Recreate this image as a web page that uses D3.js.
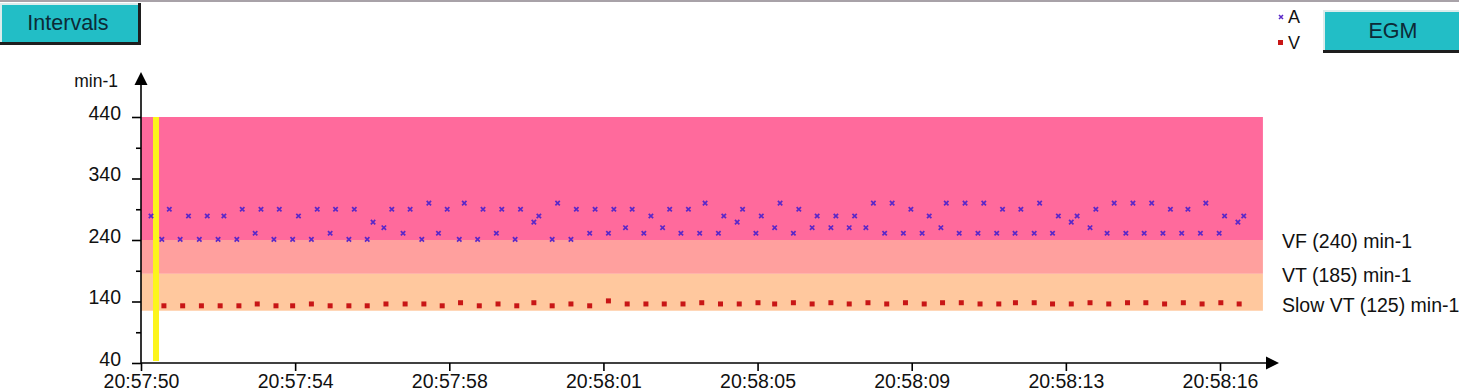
<!DOCTYPE html>
<html>
<head>
<meta charset="utf-8">
<script src="https://cdn.jsdelivr.net/npm/d3@7"></script>
<style>
  body { margin: 0; background: #fff; }
  text { font-family: Arial, "Liberation Sans", sans-serif; fill: #111; }
</style>
</head>
<body>
<svg id="chart" width="1459" height="392"></svg>
<script>
// seconds after 20:57:50 for each tick
const xTickTimes = [0, 3.7, 7.4, 11.1, 14.8, 18.5, 22.2, 25.9];
const xTickLabels = ['20:57:50', '20:57:54', '20:57:58', '20:58:01', '20:58:05', '20:58:09', '20:58:13', '20:58:16'];
const yTicks = [40, 140, 240, 340, 440];
const yMinorTicks = [90, 190, 290, 390];

const zoneNames = ['VF (240) min-1', 'VT (185) min-1', 'Slow VT (125) min-1'];
const zoneLower = [240, 185, 125];
const zoneUpper = [440, 240, 185];
const zoneEnd = 26.93;
const markerTime = 0.36;

// atrial events
const aTimes = [
  0.24, 0.50, 0.68, 0.94, 1.14, 1.40, 1.59, 1.85, 1.99, 2.30, 2.43, 2.74, 2.88, 3.19, 3.32, 3.64,
  3.78, 4.09, 4.23, 4.54, 4.67, 4.99, 5.12, 5.43, 5.57, 5.83, 6.02, 6.29, 6.46, 6.74, 6.91, 7.14,
  7.35, 7.64, 7.76, 8.08, 8.21, 8.53, 8.66, 8.98, 9.11, 9.43, 9.55, 9.87, 10.00, 10.32, 10.45, 10.77,
  10.90, 11.22, 11.35, 11.63, 11.79, 12.07, 12.24, 12.52, 12.69, 12.96, 13.14, 13.41, 13.54, 13.86, 13.99,
  14.31, 14.44, 14.76, 14.89, 15.21, 15.34, 15.66, 15.79, 16.11, 16.23, 16.56, 16.68, 17.00, 17.13, 17.40,
  17.58, 17.85, 18.03, 18.30, 18.48, 18.75, 18.92, 19.20, 19.33, 19.64, 19.78, 20.09, 20.23, 20.54, 20.68,
  20.98, 21.12, 21.44, 21.57, 21.88, 22.02, 22.33, 22.47, 22.78, 22.92, 23.19, 23.36, 23.64, 23.81,
  24.08, 24.26, 24.53, 24.71, 24.98, 25.13, 25.43, 25.56, 25.88, 26.01, 26.33, 26.47
];
const aValues = [
  279, 241, 290, 241, 279, 241, 279, 241, 279, 241, 290, 251, 290, 241, 290, 241,
  279, 241, 290, 251, 290, 241, 290, 241, 269, 260, 290, 251, 290, 241, 300, 251,
  290, 241, 300, 241, 290, 251, 290, 241, 290, 269, 279, 241, 300, 241, 290, 251,
  290, 251, 290, 260, 290, 251, 279, 260, 290, 251, 290, 251, 300, 251, 279,
  269, 290, 251, 279, 260, 300, 251, 290, 260, 279, 260, 279, 260, 279, 260,
  300, 251, 300, 251, 290, 251, 279, 260, 300, 251, 300, 251, 300, 251, 290,
  251, 290, 251, 300, 251, 279, 269, 279, 260, 290, 251, 300, 251, 300,
  251, 300, 251, 290, 251, 290, 251, 300, 251, 279, 269, 279
];

// ventricular events
const vTimes = [
  0.55, 1.00, 1.45, 1.90, 2.35, 2.79, 3.24, 3.64, 4.09, 4.54, 4.99, 5.43, 5.88, 6.34, 6.79,
  7.23, 7.67, 8.12, 8.57, 9.02, 9.43, 9.87, 10.32, 10.77, 11.22, 11.67, 12.12, 12.56, 13.01, 13.46, 13.91,
  14.36, 14.81, 15.21, 15.66, 16.11, 16.56, 17.00, 17.45, 17.90, 18.35, 18.80, 19.24, 19.69, 20.14, 20.59, 20.99,
  21.44, 21.88, 22.33, 22.78, 23.23, 23.68, 24.12, 24.57, 25.02, 25.47, 25.92, 26.36
];
const vValues = [
  133, 133, 133, 133, 133, 136, 133, 133, 136, 133, 133, 133, 136, 136, 136,
  133, 138, 133, 136, 133, 138, 133, 136, 133, 141, 136, 136, 136, 136, 138, 136,
  136, 138, 136, 138, 136, 138, 136, 138, 136, 138, 136, 138, 138, 136, 136, 138,
  138, 136, 136, 138, 136, 138, 138, 136, 138, 136, 138, 136
];

const zoneColors = ['#ff6a9c', '#ffa09e', '#ffc89e'];
const aColor = '#5a28c8';
const vColor = '#c81616';
const font = 'Arial, "Liberation Sans", sans-serif';

const svg = d3.select('#chart');
const x = d3.scaleLinear().domain([0, 25.9]).range([141, 1220]);
const y = d3.scaleLinear().domain([40, 440]).range([363, 117]);

// top frame line
svg.append('rect').attr('x', 0).attr('y', 0).attr('width', 1459).attr('height', 2).attr('fill', '#a8a2a8');

const button = (bx, by, bw, bh, label, tx) => {
  const g = svg.append('g');
  g.append('rect').attr('x', bx).attr('y', by).attr('width', bw).attr('height', bh).attr('fill', '#1e1e1e');
  g.append('rect').attr('x', bx).attr('y', by).attr('width', bw - 3).attr('height', bh - 3).attr('fill', '#dcecec');
  g.append('rect').attr('x', bx + 2).attr('y', by + 2).attr('width', bw - 5).attr('height', bh - 5).attr('fill', '#22bec6');
  g.append('text').attr('x', tx).attr('y', by + bh / 2 - 1)
    .attr('text-anchor', 'middle').attr('dominant-baseline', 'central')
    .style('font-size', '21.5px').style('fill', '#0c2a36').text(label);
};
button(0, 3, 141, 42, 'Intervals', 68);
button(1323, 10, 140, 43, 'EGM', 1393);

// legend
const legend = svg.append('g');
legend.append('path')
  .attr('d', 'M1279,15L1283,19M1279,19L1283,15')
  .attr('stroke', aColor).attr('stroke-width', 1.5).attr('fill', 'none');
legend.append('text').attr('x', 1288).attr('y', 17).attr('dominant-baseline', 'central')
  .style('font-size', '18px').text('A');
legend.append('rect').attr('x', 1278).attr('y', 40).attr('width', 5).attr('height', 5).attr('fill', vColor);
legend.append('text').attr('x', 1288).attr('y', 43).attr('dominant-baseline', 'central')
  .style('font-size', '18px').text('V');

// zones
const zones = zoneNames.map((name, i) => ({ name, lower: zoneLower[i], upper: zoneUpper[i], color: zoneColors[i] }));
svg.append('g').selectAll('rect').data(zones).join('rect')
  .attr('x', x(0)).attr('width', x(zoneEnd) - x(0))
  .attr('y', d => y(d.upper)).attr('height', d => y(d.lower) - y(d.upper))
  .attr('fill', d => d.color);
svg.append('g').selectAll('text').data(zones).join('text')
  .attr('x', 1282).attr('y', (d, i) => i === 2 ? y(d.lower) - 6 : y(d.lower) + 1)
  .attr('dominant-baseline', 'central')
  .style('font-size', '19.5px').text(d => d.name);

// marker line
svg.append('rect').attr('x', x(markerTime) - 3).attr('width', 6)
  .attr('y', y(440)).attr('height', y(40) - y(440) - 2).attr('fill', '#fcf51c');

// points
const aData = aTimes.map((t, i) => ({ t, v: aValues[i] }));
const vData = vTimes.map((t, i) => ({ t, v: vValues[i] }));
svg.append('g').selectAll('path').data(aData).join('path')
  .attr('transform', d => `translate(${x(d.t)},${y(d.v)})`)
  .attr('d', 'M-2.2,-2.2L2.2,2.2M-2.2,2.2L2.2,-2.2')
  .attr('stroke', aColor).attr('stroke-width', 1.7).attr('fill', 'none');
svg.append('g').selectAll('rect').data(vData).join('rect')
  .attr('x', d => x(d.t) - 2.5).attr('y', d => y(d.v) - 2.5)
  .attr('width', 5).attr('height', 5).attr('fill', vColor);

// y axis
const yAxis = svg.append('g').attr('transform', `translate(${x(0)},0)`)
  .call(d3.axisLeft(y).tickValues(yTicks).tickSize(9).tickPadding(11).tickFormat(d3.format('d')));
svg.append('g').attr('transform', `translate(${x(0)},0)`)
  .call(d3.axisLeft(y).tickValues(yMinorTicks).tickSize(5).tickFormat(''))
  .select('.domain').remove();
yAxis.select('.domain').attr('d', `M0,${y(40)}V78`);
yAxis.selectAll('text').style('font-size', '19.5px').style('font-family', font).attr('dy', '0.12em');
svg.append('path').attr('d', `M${x(0)},72L${x(0) - 6.5},85L${x(0) + 6.5},85Z`).attr('fill', '#000');
svg.append('text').attr('x', 118).attr('y', 81).attr('text-anchor', 'end')
  .attr('dominant-baseline', 'central').style('font-size', '17.5px').text('min-1');

// x axis
const xAxis = svg.append('g').attr('transform', `translate(0,${y(40)})`)
  .call(d3.axisBottom(x).tickValues(xTickTimes).tickSize(8).tickPadding(3)
    .tickFormat((d, i) => xTickLabels[i]));
xAxis.select('.domain').attr('d', `M${x(0)},0H1268`);
xAxis.selectAll('text').style('font-size', '19.5px').style('font-family', font);
svg.append('path').attr('d', `M1279,${y(40)}L1266,${y(40) - 6.5}L1266,${y(40) + 6.5}Z`).attr('fill', '#000');
svg.selectAll('.domain, .tick line').attr('stroke', '#000').attr('stroke-width', 1.6);
</script>
</body>
</html>
